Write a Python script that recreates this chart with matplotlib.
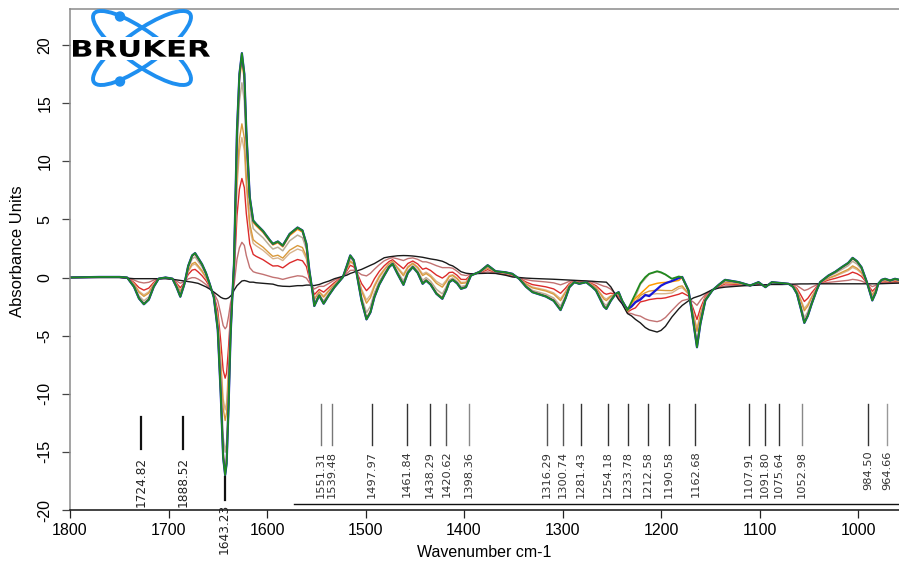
import matplotlib
matplotlib.use("Agg")
import matplotlib.pyplot as plt
from matplotlib.patches import Ellipse, Circle, Rectangle, PathPatch
from matplotlib.textpath import TextPath
from matplotlib.font_manager import FontProperties
from matplotlib.transforms import Affine2D

# ---------------- data ----------------
wn = [1800, 1770, 1750, 1742, 1735, 1730, 1725, 1720, 1715, 1710,
      1703, 1696, 1692, 1688, 1684, 1680, 1676, 1673, 1670, 1666,
      1662, 1658, 1654, 1650, 1647, 1644.5, 1642.5, 1641, 1639, 1637,
      1635, 1633.5, 1632, 1630.5, 1628, 1625.5, 1623, 1621, 1617.5, 1614,
      1611, 1604, 1597, 1594, 1589, 1584, 1577, 1569, 1564, 1560,
      1557, 1553.5, 1552, 1547, 1542.5, 1537, 1531.5, 1523, 1519, 1515.5,
      1512, 1509.5, 1504, 1499, 1495, 1491, 1486, 1481, 1476, 1472.5,
      1467.5, 1461.5, 1457, 1452, 1447, 1442, 1438.5, 1434, 1428, 1422,
      1418, 1415, 1411.5, 1407, 1403, 1398, 1393, 1384, 1376, 1368,
      1358, 1351, 1344, 1337, 1330.5, 1317, 1309, 1302, 1297, 1293,
      1288, 1283, 1276, 1270, 1266, 1262, 1258, 1255.5, 1251, 1246,
      1243, 1239.5, 1236, 1234, 1230, 1226, 1221, 1216, 1212, 1204,
      1200, 1195.5, 1189, 1182, 1178.5, 1172, 1167, 1163.5, 1160, 1155,
      1148, 1141, 1135, 1121, 1115, 1109.5, 1101, 1094, 1087.5, 1077,
      1070.5, 1066, 1062, 1058, 1054.5, 1051, 1047, 1042, 1038.5, 1030,
      1023, 1016.5, 1010, 1005.5, 1001, 996.5, 991, 985.5, 982, 979.5,
      976, 972.5, 967.5, 962.5, 958]

green = [0, 0.05, 0.05, 0, -0.8, -1.8, -2.3, -1.9, -0.8, -0.1,
         0, -0.1, -0.8, -1.65, -0.6, 1.0, 1.9, 2.1, 1.7, 1.15,
         0.4, -0.6, -1.7, -4.5, -10, -15.5, -17, -16, -11, -5,
         -1.3, 1.2, 6.9, 12.6, 17.5, 19.3, 17.5, 12.6, 6.9, 4.9,
         4.6, 4.0, 3.2, 2.9, 3.1, 2.75, 3.75, 4.3, 4.05, 2.9,
         0.6, -1.4, -2.45, -1.55, -2.25, -1.5, -0.83, 0.03, 1.0, 1.9,
         1.5, 0.6, -2.0, -3.6, -3.0, -1.7, -0.6, 0.17, 0.9, 1.17,
         0.32, -0.63, 0.4, 0.9, 0.4, -0.54, -0.26, -0.6, -1.4, -1.83,
         -1.1, -0.4, -0.2, -0.5, -0.97, -0.83, 0.17, 0.5, 1.06, 0.54,
         0.45, 0.32, -0.11, -0.8, -1.26, -1.63, -2.0, -2.8, -1.8, -0.83,
         -0.4, -0.54, -0.4, -0.8, -1.12, -1.8, -2.5, -2.7, -2.0, -1.4,
         -1.26, -1.97, -2.5, -2.8, -2.1, -1.4, -0.5, 0.03, 0.32, 0.54,
         0.45, 0.26, -0.11, 0.09, 0.03, -1.12, -3.95, -6.0, -3.97, -1.97,
         -1.12, -0.6, -0.2, -0.4, -0.55, -0.69, -0.4, -0.83, -0.4, -0.49,
         -0.54, -0.8, -1.4, -2.7, -3.9, -3.3, -2.26, -1.1, -0.4, 0.17,
         0.5, 0.89, 1.25, 1.69, 1.4, 0.89, -0.4, -1.97, -1.3, -0.54,
         -0.2, -0.11, -0.26, -0.11, -0.2]

blue = [0, 0.05, 0.05, 0, -0.8, -1.8, -2.3, -1.9, -0.8, -0.1,
        0, -0.1, -0.8, -1.65, -0.6, 1.0, 1.9, 2.1, 1.7, 1.15,
        0.4, -0.6, -1.7, -4.5, -10, -15.5, -17, -16, -11, -5,
        -1.3, 1.2, 6.9, 12.6, 17.5, 19.3, 17.5, 12.6, 6.9, 4.9,
        4.6, 4.0, 3.2, 2.9, 3.1, 2.75, 3.75, 4.3, 4.05, 2.9,
        0.6, -1.4, -2.45, -1.55, -2.25, -1.5, -0.83, 0.03, 1.0, 1.9,
        1.5, 0.6, -2.0, -3.6, -3.0, -1.7, -0.6, 0.17, 0.9, 1.17,
        0.32, -0.63, 0.4, 0.9, 0.4, -0.54, -0.26, -0.6, -1.4, -1.83,
        -1.1, -0.4, -0.2, -0.5, -0.97, -0.83, 0.17, 0.5, 1.06, 0.54,
        0.45, 0.32, -0.11, -0.8, -1.26, -1.63, -2.0, -2.8, -1.8, -0.83,
        -0.4, -0.54, -0.4, -0.8, -1.12, -1.8, -2.5, -2.7, -2.0, -1.4,
        -1.26, -2.0, -2.5, -2.7, -2.5, -2.12, -1.9, -1.5, -1.6, -1.0,
        -0.7, -0.5, -0.3, -0.05, 0.05, -1.12, -3.95, -6.0, -3.97, -1.97,
        -1.12, -0.6, -0.2, -0.4, -0.55, -0.69, -0.4, -0.83, -0.4, -0.49,
        -0.54, -0.8, -1.4, -2.7, -3.9, -3.3, -2.26, -1.1, -0.4, 0.17,
        0.5, 0.89, 1.25, 1.69, 1.4, 0.89, -0.4, -1.97, -1.3, -0.54,
        -0.2, -0.11, -0.26, -0.11, -0.2]

orange = [0, 0.05, 0.05, 0, -0.78, -1.75, -2.23, -1.85, -0.78, -0.1,
          0, -0.1, -0.78, -1.61, -0.59, 0.96, 1.83, 2.02, 1.63, 1.1,
          0.36, -0.61, -1.69, -4.41, -9.75, -15.09, -16.55, -15.57, -10.72, -4.9,
          -1.3, 1.13, 6.67, 12.2, 16.96, 18.71, 16.97, 12.21, 6.68, 4.74,
          4.45, 3.87, 3.09, 2.8, 2.99, 2.64, 3.61, 4.15, 3.91, 2.79,
          0.56, -1.38, -2.4, -1.52, -2.2, -1.46, -0.81, 0.03, 0.98, 1.85,
          1.47, 0.6, -1.92, -3.47, -2.88, -1.61, -0.54, 0.22, 0.93, 1.19,
          0.37, -0.55, 0.44, 0.93, 0.44, -0.47, -0.2, -0.53, -1.31, -1.73,
          -1.03, -0.36, -0.16, -0.46, -0.93, -0.79, 0.17, 0.5, 1.04, 0.53,
          0.44, 0.31, -0.11, -0.78, -1.22, -1.58, -1.94, -2.72, -1.75, -0.81,
          -0.4, -0.53, -0.4, -0.79, -1.1, -1.76, -2.44, -2.63, -1.96, -1.4,
          -1.28, -1.98, -2.51, -2.81, -2.2, -1.8, -1.4, -1.0, -0.69, -0.5,
          -0.45, -0.42, -0.35, -0.25, 0.0, -1.15, -3.88, -5.87, -3.9, -1.95,
          -1.12, -0.61, -0.22, -0.41, -0.55, -0.69, -0.41, -0.82, -0.41, -0.49,
          -0.54, -0.79, -1.37, -2.64, -3.8, -3.22, -2.21, -1.08, -0.4, 0.15,
          0.47, 0.85, 1.2, 1.62, 1.34, 0.85, -0.4, -1.93, -1.28, -0.54,
          -0.21, -0.12, -0.27, -0.12, -0.21]

greytan = [0, 0.04, 0.04, -0.01, -0.71, -1.58, -2.01, -1.67, -0.71, -0.1,
           -0.01, -0.11, -0.72, -1.47, -0.56, 0.82, 1.6, 1.77, 1.41, 0.92,
           0.24, -0.65, -1.64, -4.11, -8.92, -13.72, -15.03, -14.16, -9.8, -4.56,
           -1.31, 0.9, 5.89, 10.87, 15.16, 16.75, 15.19, 10.92, 5.95, 4.21,
           3.94, 3.42, 2.71, 2.45, 2.61, 2.3, 3.16, 3.65, 3.43, 2.44,
           0.44, -1.31, -2.22, -1.43, -2.02, -1.34, -0.74, 0.04, 0.9, 1.7,
           1.36, 0.59, -1.65, -3.02, -2.47, -1.32, -0.33, 0.37, 1.01, 1.25,
           0.52, -0.3, 0.59, 1.02, 0.58, -0.24, -0.01, -0.31, -1.02, -1.41,
           -0.79, -0.21, -0.04, -0.34, -0.78, -0.67, 0.19, 0.48, 0.97, 0.52,
           0.42, 0.29, -0.1, -0.7, -1.11, -1.43, -1.76, -2.46, -1.59, -0.75,
           -0.38, -0.5, -0.39, -0.74, -1.02, -1.61, -2.23, -2.4, -1.84, -1.41,
           -1.34, -2.01, -2.54, -2.84, -2.26, -1.69, -0.6, -0.1, 0.3, 0.5,
           0.4, 0.25, -0.1, 0.0, -0.05, -1.23, -3.66, -5.43, -3.66, -1.89,
           -1.11, -0.64, -0.28, -0.44, -0.57, -0.69, -0.43, -0.8, -0.43, -0.5,
           -0.55, -0.77, -1.29, -2.42, -3.47, -2.94, -2.04, -1.03, -0.42, 0.08,
           0.37, 0.7, 1.02, 1.4, 1.15, 0.7, -0.42, -1.78, -1.2, -0.54,
           -0.24, -0.16, -0.29, -0.16, -0.24]

ochre = [0, 0.03, 0.03, -0.02, -0.58, -1.27, -1.62, -1.34, -0.58, -0.1,
         -0.03, -0.12, -0.61, -1.22, -0.51, 0.58, 1.19, 1.31, 1.02, 0.59,
         0.03, -0.72, -1.56, -3.57, -7.43, -11.25, -12.3, -11.6, -8.13, -3.95,
         -1.33, 0.49, 4.48, 8.48, 11.92, 13.22, 11.99, 8.6, 4.64, 3.26,
         3.03, 2.61, 2.04, 1.82, 1.92, 1.67, 2.35, 2.75, 2.58, 1.8,
         0.21, -1.18, -1.9, -1.26, -1.69, -1.13, -0.6, 0.05, 0.75, 1.42,
         1.18, 0.59, -1.16, -2.21, -1.74, -0.8, 0.04, 0.64, 1.17, 1.37,
         0.8, 0.15, 0.86, 1.2, 0.83, 0.17, 0.34, 0.08, -0.5, -0.83,
         -0.37, 0.07, 0.17, -0.11, -0.51, -0.46, 0.22, 0.45, 0.85, 0.48,
         0.37, 0.24, -0.08, -0.57, -0.89, -1.16, -1.43, -1.99, -1.3, -0.64,
         -0.35, -0.45, -0.37, -0.65, -0.88, -1.36, -1.85, -1.99, -1.63, -1.43,
         -1.46, -2.06, -2.59, -2.89, -2.47, -2.08, -1.55, -1.31, -1.17, -1.08,
         -1.1, -1.12, -1.13, -0.78, -0.72, -1.39, -3.27, -4.65, -3.22, -1.78,
         -1.1, -0.69, -0.4, -0.51, -0.6, -0.69, -0.48, -0.77, -0.46, -0.52,
         -0.55, -0.73, -1.14, -2.03, -2.86, -2.45, -1.73, -0.93, -0.44, -0.05,
         0.18, 0.45, 0.7, 1.0, 0.8, 0.45, -0.44, -1.53, -1.06, -0.54,
         -0.3, -0.24, -0.33, -0.23, -0.29]

lighttan = [0, 0.03, 0.03, -0.02, -0.54, -1.17, -1.49, -1.23, -0.54, -0.1,
            -0.04, -0.12, -0.57, -1.14, -0.49, 0.5, 1.05, 1.16, 0.89, 0.48,
            -0.04, -0.74, -1.53, -3.39, -6.93, -10.43, -11.39, -10.75, -7.58, -3.75,
            -1.34, 0.35, 4.01, 7.68, 10.84, 12.04, 10.92, 7.83, 4.2, 2.94,
            2.73, 2.34, 1.82, 1.61, 1.69, 1.46, 2.08, 2.45, 2.3, 1.59,
            0.14, -1.14, -1.79, -1.2, -1.58, -1.06, -0.56, 0.05, 0.7, 1.33,
            1.12, 0.59, -1.0, -1.94, -1.5, -0.63, 0.16, 0.73, 1.22, 1.41,
            0.89, 0.3, 0.95, 1.26, 0.91, 0.31, 0.46, 0.21, -0.33, -0.64,
            -0.23, 0.16, 0.24, -0.04, -0.42, -0.39, 0.23, 0.44, 0.81, 0.47,
            0.36, 0.22, -0.07, -0.52, -0.82, -1.07, -1.32, -1.83, -1.2, -0.6,
            -0.34, -0.43, -0.36, -0.62, -0.83, -1.27, -1.72, -1.85, -1.56, -1.44,
            -1.5, -2.08, -2.61, -2.91, -2.54, -2.21, -1.75, -1.57, -1.46, -1.39,
            -1.4, -1.39, -1.33, -0.95, -0.87, -1.44, -3.14, -4.39, -3.08, -1.74,
            -1.1, -0.71, -0.44, -0.53, -0.61, -0.69, -0.5, -0.76, -0.47, -0.53,
            -0.55, -0.72, -1.09, -1.9, -2.66, -2.29, -1.63, -0.9, -0.45, -0.09,
            0.12, 0.36, 0.59, 0.87, 0.68, 0.36, -0.45, -1.44, -1.01, -0.54,
            -0.32, -0.27, -0.34, -0.25, -0.31]

red = [0, 0.02, 0.02, -0.03, -0.42, -0.87, -1.09, -0.91, -0.42, -0.1,
       -0.06, -0.13, -0.47, -0.88, -0.44, 0.26, 0.64, 0.70, 0.49, 0.16,
       -0.26, -0.82, -1.45, -2.85, -5.44, -7.97, -8.66, -8.2, -5.91, -3.13,
       -1.36, -0.07, 2.61, 5.29, 7.6, 8.52, 7.73, 5.5, 2.89, 1.99,
       1.82, 1.53, 1.14, 0.99, 1.01, 0.83, 1.26, 1.55, 1.44, 0.95,
       -0.09, -1.01, -1.48, -1.03, -1.26, -0.84, -0.43, 0.07, 0.56, 1.05,
       0.92, 0.57, -0.52, -1.13, -0.77, -0.11, 0.53, 1.01, 1.38, 1.53,
       1.17, 0.76, 1.21, 1.42, 1.17, 0.71, 0.81, 0.61, 0.21, -0.05,
       0.19, 0.43, 0.46, 0.19, -0.16, -0.17, 0.25, 0.42, 0.68, 0.44,
       0.31, 0.17, -0.05, -0.39, -0.61, -0.8, -0.98, -1.36, -0.92, -0.5,
       -0.31, -0.39, -0.35, -0.54, -0.7, -1.01, -1.34, -1.44, -1.34, -1.46,
       -1.61, -2.13, -2.67, -2.97, -2.76, -2.61, -2.1, -2.0, -1.9, -1.8,
       -1.8, -1.75, -1.6, -1.44, -1.31, -1.6, -2.74, -3.61, -2.64, -1.63,
       -1.08, -0.77, -0.55, -0.59, -0.63, -0.69, -0.54, -0.72, -0.51, -0.55,
       -0.56, -0.67, -0.94, -1.52, -2.06, -1.79, -1.31, -0.79, -0.48, -0.22,
       -0.07, 0.1, 0.27, 0.46, 0.33, 0.1, -0.48, -1.18, -0.88, -0.54,
       -0.38, -0.34, -0.39, -0.32, -0.35]

rosy = [0, 0.01, 0.01, -0.04, -0.22, -0.39, -0.47, -0.41, -0.22, -0.1,
        -0.08, -0.14, -0.3, -0.49, -0.35, -0.12, -0.01, -0.02, -0.13, -0.34,
        -0.6, -0.93, -1.33, -2.01, -3.11, -4.13, -4.41, -4.23, -3.32, -2.18,
        -1.38, -0.71, 0.43, 1.56, 2.56, 3.03, 2.76, 1.89, 0.84, 0.5,
        0.41, 0.27, 0.09, 0.02, -0.05, -0.16, 0.0, 0.15, 0.11, -0.05,
        -0.44, -0.81, -0.99, -0.76, -0.76, -0.5, -0.22, 0.09, 0.34, 0.61,
        0.63, 0.56, 0.24, 0.14, 0.36, 0.71, 1.1, 1.44, 1.63, 1.71,
        1.61, 1.46, 1.63, 1.69, 1.56, 1.35, 1.35, 1.23, 1.02, 0.85,
        0.85, 0.85, 0.8, 0.54, 0.25, 0.17, 0.3, 0.38, 0.49, 0.38,
        0.24, 0.1, -0.02, -0.18, -0.28, -0.38, -0.46, -0.63, -0.47, -0.32,
        -0.27, -0.31, -0.32, -0.4, -0.48, -0.61, -0.75, -0.79, -1.0, -1.48,
        -1.79, -2.21, -2.75, -3.05, -3.1, -3.23, -3.32, -3.56, -3.68, -3.8,
        -3.7, -3.44, -2.84, -2.23, -1.99, -1.85, -2.12, -2.39, -1.96, -1.46,
        -1.06, -0.85, -0.72, -0.68, -0.68, -0.69, -0.61, -0.66, -0.57, -0.58,
        -0.57, -0.61, -0.7, -0.92, -1.12, -1.02, -0.83, -0.64, -0.52, -0.42,
        -0.36, -0.3, -0.24, -0.16, -0.21, -0.3, -0.52, -0.78, -0.67, -0.54,
        -0.47, -0.45, -0.46, -0.43, -0.43]

black = [0, 0, 0, -0.05, -0.1, -0.1, -0.1, -0.1, -0.1, -0.1,
         -0.1, -0.15, -0.2, -0.25, -0.3, -0.35, -0.4, -0.45, -0.5, -0.65,
         -0.8, -1.0, -1.25, -1.5, -1.7, -1.8, -1.83, -1.82, -1.75, -1.6,
         -1.4, -1.1, -0.9, -0.7, -0.5, -0.3, -0.26, -0.3, -0.4, -0.4,
         -0.45, -0.5, -0.55, -0.57, -0.7, -0.75, -0.77, -0.7, -0.7, -0.65,
         -0.65, -0.69, -0.69, -0.6, -0.45, -0.3, -0.1, 0.1, 0.2, 0.35,
         0.45, 0.55, 0.7, 0.9, 1.05, 1.2, 1.45, 1.7, 1.78, 1.82,
         1.87, 1.89, 1.88, 1.85, 1.8, 1.74, 1.68, 1.6, 1.52, 1.4,
         1.25, 1.1, 1.0, 0.75, 0.5, 0.37, 0.32, 0.35, 0.37, 0.35,
         0.2, 0.05, 0.0, -0.05, -0.08, -0.12, -0.15, -0.18, -0.2, -0.22,
         -0.24, -0.26, -0.3, -0.32, -0.35, -0.37, -0.39, -0.4, -0.8, -1.5,
         -1.9, -2.26, -2.8, -3.1, -3.3, -3.6, -3.9, -4.3, -4.5, -4.69,
         -4.55, -4.2, -3.4, -2.7, -2.4, -2.0, -1.75, -1.65, -1.55, -1.35,
         -1.05, -0.9, -0.83, -0.74, -0.7, -0.69, -0.65, -0.62, -0.6, -0.6,
         -0.58, -0.57, -0.56, -0.55, -0.55, -0.55, -0.54, -0.54, -0.54, -0.54,
         -0.54, -0.54, -0.54, -0.54, -0.54, -0.54, -0.54, -0.54, -0.54, -0.54,
         -0.53, -0.52, -0.5, -0.49, -0.48]

series_values = [rosy, red, lighttan, ochre, greytan, black, orange, blue, green]
series_colors = ["#c27272", "#dc2b2b", "#d8b48c", "#d99a3c", "#bcae96", "#1a1a1a", "#ff9a00", "#1818d8", "#1f8a1f"]
series_widths = [1.0, 1.0, 1.0, 1.0, 1.1, 1.0, 1.1, 1.6, 1.3]

# peak picking marks: positions (as drawn), label texts
peak_pos = [1728.1, 1685.2, 1643.0, 1545.4, 1534.3, 1493.4, 1457.9, 1434.6, 1417.9, 1395.3,
            1315.6, 1300.0, 1281.3, 1254.0, 1233.7, 1213.3, 1192.3, 1165.0, 1111.0, 1094.8,
            1080.0, 1057.0, 989.7, 970.4]
peak_labels = ["1724.82", "1888.52", "1643.23", "1551.31", "1539.48", "1497.97", "1461.84",
               "1438.29", "1420.62", "1398.36", "1316.29", "1300.74", "1281.43", "1254.18",
               "1233.78", "1212.58", "1190.58", "1162.68", "1107.91", "1091.80", "1075.64",
               "1052.98", "984.50", "964.66"]
peak_line_colors = ["#222222", "#222222", "#222222", "#777777", "#777777", "#333333", "#333333",
                    "#333333", "#555555", "#888888", "#555555", "#555555", "#333333", "#333333",
                    "#333333", "#333333", "#333333", "#333333", "#333333", "#333333", "#333333",
                    "#888888", "#333333", "#999999"]

x_ticks = [1800, 1700, 1600, 1500, 1400, 1300, 1200, 1100, 1000]
y_ticks = [-20, -15, -10, -5, 0, 5, 10, 15, 20]

# ---------------- figure ----------------
W, H = 899, 571
fig = plt.figure(figsize=(W / 100, H / 100), dpi=100)
ax = fig.add_axes([70 / W, (H - 510) / H, (W - 70) / W, (510 - 9) / H])
ax.set_xlim(1800, 958.4)
ax.set_ylim(-20, 23.1)

for vals, col, lw in zip(series_values, series_colors, series_widths):
    ax.plot(wn, vals, color=col, lw=lw, solid_joinstyle="round")

# peak marks
for i, (p, lab, lc) in enumerate(zip(peak_pos, peak_labels, peak_line_colors)):
    if i < 2:
        ax.plot([p, p], [-12.0, -14.76], color="#111111", lw=1.6)
        ax.text(p, -15.4, lab, rotation=90, ha="center", va="top", fontsize=8.7,
                color="#222222", family="DejaVu Sans")
    elif i == 2:
        ax.plot([p, p], [-17.14, -19.14], color="#111111", lw=1.6)
        ax.text(p, -19.45, lab, rotation=90, ha="center", va="top", fontsize=8.7,
                color="#222222", family="DejaVu Sans", clip_on=False)
    else:
        ax.plot([p, p], [-10.84, -14.42], color=lc, lw=1.0)
        ax.text(p, -14.9, lab, rotation=90, ha="center", va="top", fontsize=8.2,
                color="#333333", family="DejaVu Sans")
ax.plot([1572.8, 958.4], [-19.5, -19.5], color="#111111", lw=1.0)

# axes styling
ax.spines["right"].set_visible(False)
ax.spines["left"].set_color("#8a8a8a")
ax.spines["top"].set_color("#8a8a8a")
ax.spines["left"].set_linewidth(1.1)
ax.spines["top"].set_linewidth(1.1)
ax.spines["bottom"].set_color("#111111")
ax.spines["bottom"].set_linewidth(1.1)

ax.set_xticks(x_ticks)
ax.set_xticklabels([str(t) for t in x_ticks])
ax.set_yticks(y_ticks)
ax.set_yticklabels([str(t) for t in y_ticks])
ax.tick_params(axis="x", direction="out", length=5.5, width=0.9, color="#222222", pad=4,
               labelsize=11.5)
ax.tick_params(axis="y", direction="out", length=5.5, width=0.9, color="#444444", pad=7,
               labelsize=11.5, labelrotation=90)
for lab in ax.get_yticklabels():
    lab.set_va("center")
    lab.set_family("Liberation Sans")
for lab in ax.get_xticklabels():
    lab.set_family("Liberation Sans")

ax.set_xlabel("Wavenumber cm-1", fontsize=11.5, family="Liberation Sans", labelpad=5)
fig.text(18 / W, 1 - 251 / H, "Absorbance Units", rotation=90, ha="center", va="center",
         fontsize=12, family="Liberation Sans")

# ---------------- Bruker logo ----------------
ov = fig.add_axes([0, 0, 1, 1])
ov.set_xlim(0, W)
ov.set_ylim(H, 0)
ov.axis("off")
ov.patch.set_alpha(0)
logo_blue = "#1e8ff0"
for ang in (35.6, -35.6):
    ov.add_patch(Ellipse((142, 48), 118, 34, angle=ang, fill=False, ec=logo_blue, lw=2.8))
ov.add_patch(Circle((120, 16.5), 4.5, color=logo_blue))
ov.add_patch(Circle((120, 81.5), 4.5, color=logo_blue))
ov.add_patch(Rectangle((71, 37), 142, 23, color="white", lw=0))
tp = TextPath((0, 0), "BRUKER", size=20, prop=FontProperties(family="DejaVu Sans", weight="bold"))
ext = tp.get_extents()
sx = 137 / ext.width
sy = 17 / ext.height
tr = Affine2D().translate(-ext.x0, -ext.y0).scale(sx, -sy).translate(73, 57) + ov.transData
ov.add_patch(PathPatch(tp, transform=tr, color="black", lw=0))

fig.savefig("out.png", dpi=100)
